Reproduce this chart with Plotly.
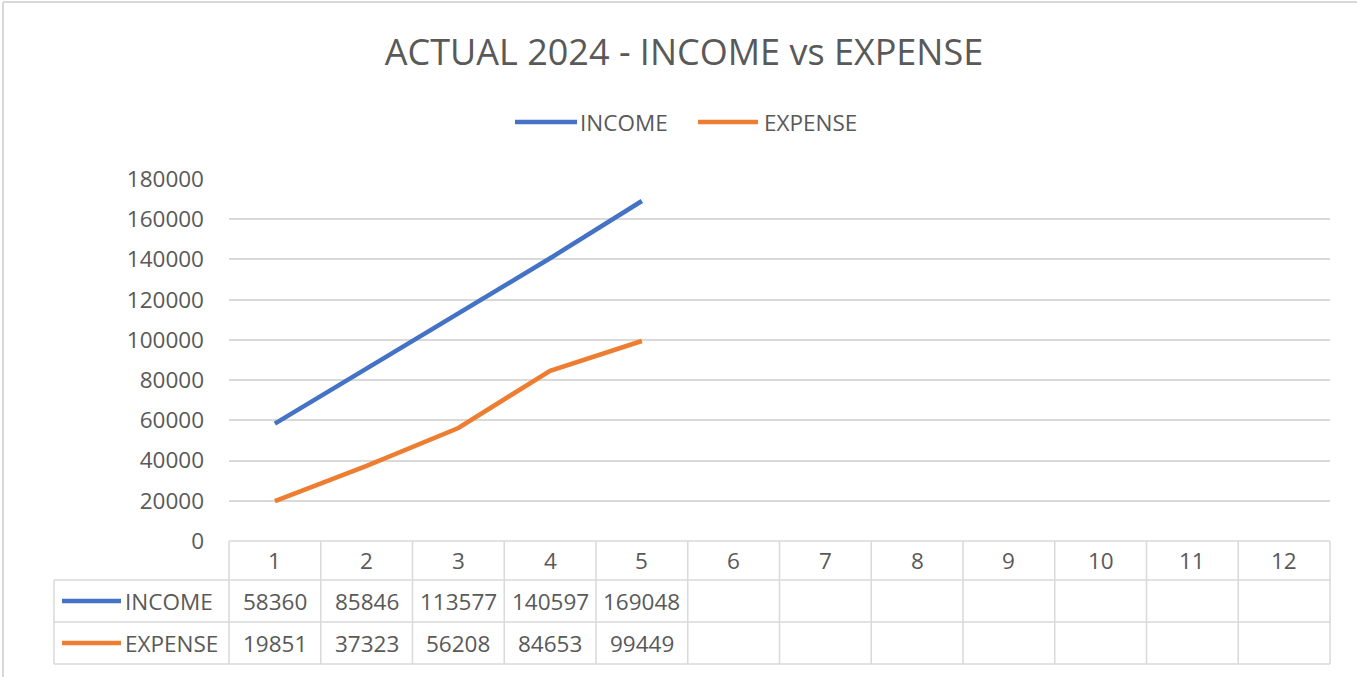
import plotly.graph_objects as go

months = list(range(1, 13))
income = [58360, 85846, 113577, 140597, 169048]
expense = [19851, 37323, 56208, 84653, 99449]
series_names = ["INCOME", "EXPENSE"]
series_colors = ["#4472C4", "#ED7D31"]
y_ticks = [0, 20000, 40000, 60000, 80000, 100000, 120000, 140000, 160000, 180000]
title_text = "ACTUAL 2024 - INCOME vs EXPENSE"

W, H = 1357, 677
L, R, T, B = 229, 27, 179, 136
PW, PH = W - L - R, H - T - B
TXT = "#595959"
GRID = "#D9D9D9"
FONT = "Open Sans"
FS = 22.5


def px(x):
    return (x - L) / PW


def py(y):
    return (H - B - y) / PH


fig = go.Figure()
for name, vals, col in zip(series_names, [income, expense], series_colors):
    fig.add_trace(go.Scatter(
        x=months[:len(vals)], y=vals, mode="lines", name=name,
        line=dict(color=col, width=4.5), showlegend=False,
        hoverinfo="x+y+name",
    ))

shapes = []
annotations = []

# outer chart border (top/left visible)
shapes.append(dict(type="line", xref="paper", yref="paper", x0=px(3), x1=px(W), y0=py(2), y1=py(2),
                   line=dict(color=GRID, width=2)))
shapes.append(dict(type="line", xref="paper", yref="paper", x0=px(3), x1=px(3), y0=py(2), y1=py(H),
                   line=dict(color=GRID, width=2)))

# legend
leg_y = py(122)
leg_items = [(515, 577, 578), (698, 758, 762)]
for (x0, x1, tx), name, col in zip(leg_items, series_names, series_colors):
    shapes.append(dict(type="line", xref="paper", yref="paper", x0=px(x0), x1=px(x1), y0=leg_y, y1=leg_y,
                       line=dict(color=col, width=4.5)))
    annotations.append(dict(xref="paper", yref="paper", x=px(tx), y=leg_y, text=name, showarrow=False,
                            xanchor="left", yanchor="middle", font=dict(family=FONT, size=FS, color=TXT)))

# data table
row_tops = [541, 580, 622, 664]
n = len(months)
x_left_paper = px(54)
shapes.append(dict(type="line", xref="paper", yref="paper", x0=0, x1=1, y0=py(row_tops[0]), y1=py(row_tops[0]),
                   line=dict(color=GRID, width=1.5)))
for yy in row_tops[1:]:
    shapes.append(dict(type="line", xref="paper", yref="paper", x0=x_left_paper, x1=1, y0=py(yy), y1=py(yy),
                       line=dict(color=GRID, width=1.5)))
for i in range(n + 1):
    xb = i / n
    shapes.append(dict(type="line", xref="paper", yref="paper", x0=xb, x1=xb, y0=py(row_tops[0]), y1=py(row_tops[-1]),
                       line=dict(color=GRID, width=1.5)))
shapes.append(dict(type="line", xref="paper", yref="paper", x0=x_left_paper, x1=x_left_paper,
                   y0=py(row_tops[1]), y1=py(row_tops[-1]), line=dict(color=GRID, width=1.5)))

# header numbers
hdr_y = py((row_tops[0] + row_tops[1]) / 2)
for m in months:
    annotations.append(dict(xref="x", yref="paper", x=m, y=hdr_y, text=str(m), showarrow=False,
                            xanchor="center", yanchor="middle", font=dict(family=FONT, size=FS, color=TXT)))

# data rows
for r, (name, vals, col) in enumerate(zip(series_names, [income, expense], series_colors)):
    ry = py((row_tops[r + 1] + row_tops[r + 2]) / 2)
    shapes.append(dict(type="line", xref="paper", yref="paper", x0=px(62), x1=px(121), y0=ry, y1=ry,
                       line=dict(color=col, width=4.5)))
    annotations.append(dict(xref="paper", yref="paper", x=px(123), y=ry, text=name, showarrow=False,
                            xanchor="left", yanchor="middle", font=dict(family=FONT, size=FS, color=TXT)))
    for m, v in zip(months, vals):
        annotations.append(dict(xref="x", yref="paper", x=m, y=ry, text=str(v), showarrow=False,
                                xanchor="center", yanchor="middle", font=dict(family=FONT, size=FS, color=TXT)))

fig.update_layout(
    width=W, height=H,
    margin=dict(l=L, r=R, t=T, b=B),
    paper_bgcolor="white", plot_bgcolor="white",
    title=dict(text=title_text, xref="container", x=684 / W, xanchor="center",
               yref="container", y=1 - 52 / H, yanchor="middle",
               font=dict(family=FONT, size=36, color=TXT)),
    xaxis=dict(range=[0.5, 12.5], showticklabels=False, showgrid=False, zeroline=False, showline=False,
               fixedrange=True),
    yaxis=dict(range=[0, 180000], tickvals=y_ticks, ticktext=[str(v) for v in y_ticks],
               showgrid=True, gridcolor=GRID, gridwidth=1.5, zeroline=False, showline=False,
               tickfont=dict(family=FONT, size=FS, color=TXT), ticklabelstandoff=24, fixedrange=True),
    shapes=shapes, annotations=annotations,
)

fig.write_html("out.html", config={"displayModeBar": False},
               post_script="document.body.style.margin='0';")
